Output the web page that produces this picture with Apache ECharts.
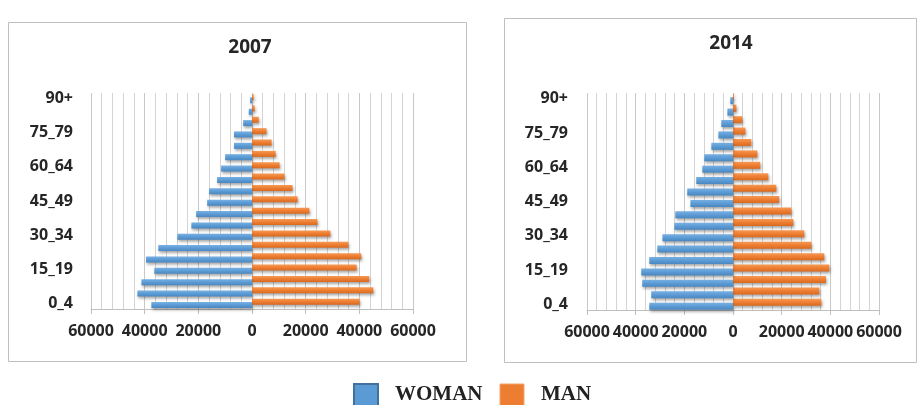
<!DOCTYPE html>
<html>
<head>
<meta charset="utf-8">
<script src="https://cdn.jsdelivr.net/npm/echarts@6/dist/echarts.min.js"></script>
<style>
  html, body { margin: 0; padding: 0; background: #ffffff; }
  #chart { width: 918px; height: 405px; }
</style>
</head>
<body>
<div id="chart"></div>
<script>
const categories = ['0_4','5_9','10_14','15_19','20_24','25_29','30_34','35_39','40_44','45_49','50_54','55_59','60_64','65_69','70_74','75_79','80_84','85_89','90+'];
const woman2007 = [37500, 42700, 41200, 36400, 39500, 34900, 27800, 22600, 20800, 16700, 16000, 13000, 11500, 10000, 6700, 6700, 3300, 1200, 700];
const man2007   = [40100, 45200, 43700, 39000, 40700, 35900, 29200, 24400, 21400, 17000, 15100, 12100, 10300, 8800, 7300, 5400, 2500, 1000, 600];
const woman2014 = [34400, 33600, 37300, 37700, 34400, 31100, 29000, 24100, 23700, 17500, 18800, 15100, 12600, 11800, 8900, 6000, 4800, 2300, 1100];
const man2014   = [36300, 35500, 38200, 39600, 37500, 32200, 29300, 24800, 24000, 19000, 17800, 14500, 11200, 10000, 7500, 5100, 3800, 1400, 400];
const xTicks = { min: -60000, max: 60000, interval: 20000 };
const titles = ['2007', '2014'];

const blueGrad = new echarts.graphic.LinearGradient(0, 0, 0, 1, [
  { offset: 0, color: '#79B0E2' }, { offset: 0.5, color: '#5B9BD5' }, { offset: 1, color: '#4A87C0' }
]);
const orangeGrad = new echarts.graphic.LinearGradient(0, 0, 0, 1, [
  { offset: 0, color: '#F79A55' }, { offset: 0.5, color: '#ED7D31' }, { offset: 1, color: '#D86A20' }
]);

const labelFont = { fontFamily: 'Open Sans', fontWeight: 'bold', fontSize: 16, color: '#262626' };

function xAxisCfg(gridIndex) {
  return {
    type: 'value', gridIndex,
    min: xTicks.min, max: xTicks.max, interval: xTicks.interval,
    axisLine: { show: true, lineStyle: { color: '#BFBFBF', width: 1 } },
    axisTick: { show: true, length: 5, lineStyle: { color: '#BFBFBF' } },
    axisLabel: Object.assign({ margin: 14, formatter: v => String(Math.abs(v)) }, labelFont),
    splitLine: { show: true, lineStyle: { color: '#C8C8C8', width: 1 } },
    minorTick: { show: false, splitNumber: 5 },
    minorSplitLine: { show: true, lineStyle: { color: '#D4D4D4', width: 1 } }
  };
}
function yAxisCfg(gridIndex, margin) {
  return {
    type: 'category', gridIndex, data: categories,
    axisLine: { show: false }, axisTick: { show: false },
    axisLabel: Object.assign({ interval: 2, margin: margin }, labelFont),
    splitLine: { show: false }
  };
}
function shadowStyle(color) {
  return { color, shadowColor: 'rgba(0,0,0,0.35)', shadowBlur: 3, shadowOffsetX: 1, shadowOffsetY: 2 };
}
function barSeries(name, idx, values, color, width, sign) {
  return {
    name, type: 'bar', xAxisIndex: idx, yAxisIndex: idx,
    data: values.map(v => sign * v),
    barWidth: width, barGap: '-45%',
    itemStyle: shadowStyle(color),
    emphasis: { disabled: true }, animation: false
  };
}

const chart = echarts.init(document.getElementById('chart'), null, { renderer: 'canvas' });
chart.setOption({
  animation: false,
  title: [
    { text: titles[0], left: 245, top: 33, textAlign: 'center',
      textStyle: { fontFamily: 'Open Sans', fontWeight: 'bold', fontSize: 19, color: '#262626' } },
    { text: titles[1], left: 726, top: 29, textAlign: 'center',
      textStyle: { fontFamily: 'Open Sans', fontWeight: 'bold', fontSize: 19, color: '#262626' } }
  ],
  graphic: [
    { type: 'rect', shape: { x: 8.5, y: 22.5, width: 458, height: 339 }, style: { fill: 'none', stroke: '#BFBFBF', lineWidth: 1 }, z: -1 },
    { type: 'rect', shape: { x: 504.5, y: 18.5, width: 412, height: 344 }, style: { fill: 'none', stroke: '#BFBFBF', lineWidth: 1 }, z: -1 }
  ],
  legend: {
    left: 348, top: 378, itemWidth: 24, itemHeight: 22, itemGap: 17,
    icon: 'rect', selectedMode: false,
    textStyle: { fontFamily: 'Liberation Serif', fontWeight: 'bold', fontSize: 21, color: '#222222', padding: [2, 0, 0, 12] },
    data: [
      { name: 'WOMAN', itemStyle: { color: '#5B9BD5', borderColor: '#41719C', borderWidth: 2 } },
      { name: 'MAN', itemStyle: { color: '#ED7D31', borderColor: '#F4A36B', borderWidth: 1 } }
    ]
  },
  grid: [
    { left: 91, top: 93, width: 322, height: 216 },
    { left: 587, top: 93, width: 292, height: 217 }
  ],
  xAxis: [xAxisCfg(0), xAxisCfg(1)],
  yAxis: [yAxisCfg(0, 18), yAxisCfg(1, 19)],
  series: [
    barSeries('MAN', 0, man2007, orangeGrad, 6, 1),
    barSeries('WOMAN', 0, woman2007, blueGrad, 6, -1),
    barSeries('MAN', 1, man2014, orangeGrad, 7, 1),
    barSeries('WOMAN', 1, woman2014, blueGrad, 7, -1)
  ]
});
</script>
</body>
</html>
